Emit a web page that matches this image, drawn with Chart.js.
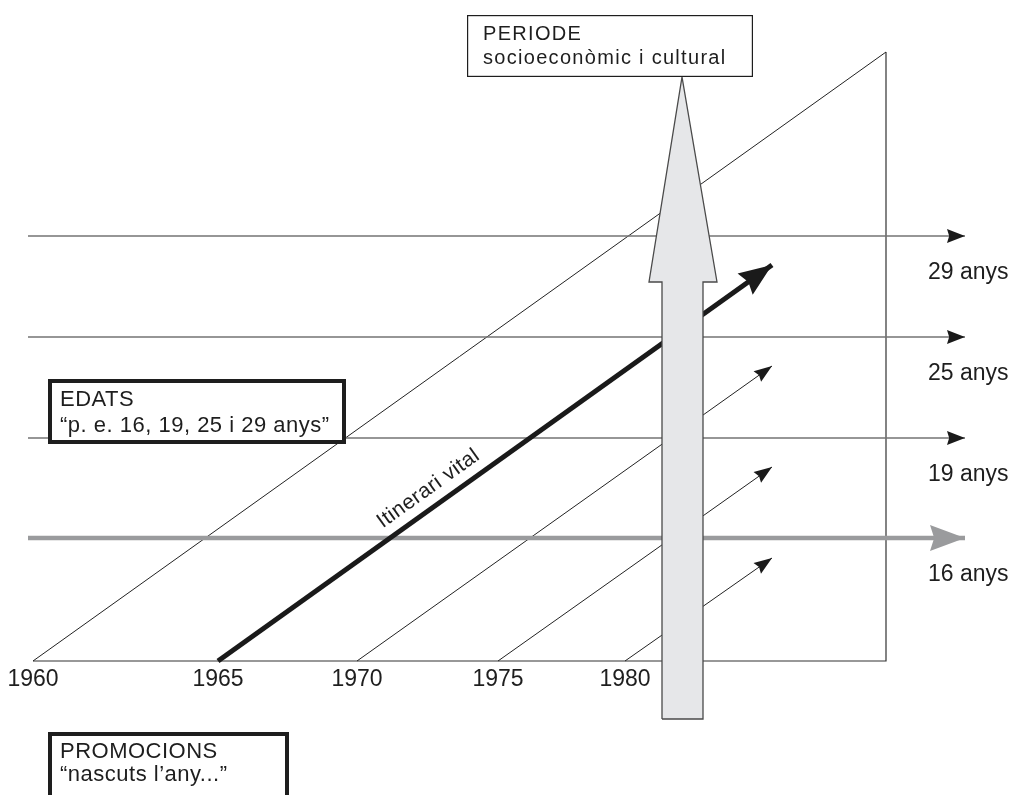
<!DOCTYPE html>
<html>
<head>
<meta charset="utf-8">
<title>Promocions, edats i període</title>
<script src="https://cdn.jsdelivr.net/npm/chart.js"></script>
<style>
  html, body { margin: 0; padding: 0; background: #fff; }
  #wrap { width: 1010px; height: 795px; }
</style>
</head>
<body>
<div id="wrap"><canvas id="lexis" width="1010" height="795"></canvas></div>
<script>
// The scheme is not drawn to scale, so the units follow the drawing itself
const cohortYears = ['1960', '1965', '1970', '1975', '1980'];
const cohortStartX = [33, 218, 357, 498, 625];
const cohortEndX = [886, 772, 772, 772, 772];
const cohortEndY = [52, 265, 366, 467, 558];
const baselineY = 661;

const ageLabels = ['29 anys', '25 anys', '19 anys', '16 anys'];
const ageY = [236, 337, 438, 538];
const ageFromX = 28;
const ageToX = 965;

const frameRight = 886;
const frameTop = 52;

// big "period" arrow outline
const periodArrowX = [662, 662, 649, 682, 717, 703, 703, 662];
const periodArrowY = [719, 282, 282, 77, 282, 282, 719, 719];

const FONT = '"Liberation Sans", Arial, Helvetica, sans-serif';

const datasets = [];

// period arrow on top of everything
datasets.push({
  data: periodArrowX.map((x, i) => ({ x: x, y: periodArrowY[i] })),
  borderColor: '#4a4a4a', borderWidth: 1.3, backgroundColor: '#e6e7e9',
  fill: 'shape', order: 0
});

// frame: base line and right edge
datasets.push({
  data: [{ x: cohortStartX[0], y: baselineY }, { x: frameRight, y: baselineY }, { x: frameRight, y: frameTop }],
  borderColor: '#333', borderWidth: 1.2, order: 5
});

// cohorts (diagonals)
cohortYears.forEach((yr, i) => {
  const main = i === 1;
  datasets.push({
    data: [{ x: cohortStartX[i], y: baselineY }, { x: cohortEndX[i], y: cohortEndY[i] }],
    borderColor: main ? '#1a1a1a' : '#222',
    borderWidth: main ? 5 : 1,
    order: main ? 1 : 4,
    head: i === 0 ? null : (main ? { len: 33, half: 13, color: '#1a1a1a' } : { len: 18, half: 6.5, color: '#1a1a1a' })
  });
});

// ages (horizontals)
ageLabels.forEach((lab, i) => {
  const sixteen = i === 3;
  datasets.push({
    data: [{ x: ageFromX, y: ageY[i] }, { x: ageToX, y: ageY[i] }],
    borderColor: sixteen ? '#9a9b9d' : '#737373',
    borderWidth: sixteen ? 4.5 : 1.5,
    order: sixteen ? 2 : 3,
    head: sixteen ? { len: 35, half: 13, color: '#9a9b9d' } : { len: 18, half: 7, color: '#1a1a1a' }
  });
});

function box(ctx, x, y, w, h, lw, lines, size, spacing, pad, baseline, gap) {
  ctx.save();
  ctx.fillStyle = '#fff';
  ctx.fillRect(x, y, w, h);
  ctx.strokeStyle = '#1e1e1e';
  ctx.lineWidth = lw;
  ctx.strokeRect(x + lw / 2, y + lw / 2, w - lw, h - lw);
  ctx.fillStyle = '#1e1e1e';
  ctx.font = size + 'px ' + FONT;
  ctx.letterSpacing = spacing + 'px';
  ctx.textAlign = 'left';
  ctx.textBaseline = 'alphabetic';
  lines.forEach((t, k) => ctx.fillText(t, x + pad, baseline + k * gap));
  ctx.restore();
}

const overlay = {
  id: 'overlay',
  afterDatasetsDraw(chart) {
    const ctx = chart.ctx;
    chart.data.datasets.forEach((ds, i) => {
      if (!ds.head) return;
      const pts = chart.getDatasetMeta(i).data;
      const a = pts[pts.length - 2], b = pts[pts.length - 1];
      const ang = Math.atan2(b.y - a.y, b.x - a.x);
      ctx.save();
      ctx.translate(b.x, b.y);
      ctx.rotate(ang);
      ctx.fillStyle = ds.head.color;
      ctx.beginPath();
      ctx.moveTo(0, 0);
      ctx.lineTo(-ds.head.len, -ds.head.half);
      ctx.lineTo(-ds.head.len * 0.88, 0);
      ctx.lineTo(-ds.head.len, ds.head.half);
      ctx.closePath();
      ctx.fill();
      ctx.restore();
    });
  },
  afterDraw(chart) {
    const ctx = chart.ctx;
    const xs = chart.scales.x, ys = chart.scales.y;

    // cohort year labels under the base line
    ctx.save();
    ctx.fillStyle = '#1e1e1e';
    ctx.font = '23px ' + FONT;
    ctx.textAlign = 'center';
    ctx.textBaseline = 'alphabetic';
    cohortYears.forEach((yr, i) => {
      ctx.fillText(yr, xs.getPixelForValue(cohortStartX[i]), ys.getPixelForValue(baselineY) + 25);
    });
    // age labels at the right
    ctx.textAlign = 'left';
    ageLabels.forEach((lab, i) => {
      ctx.fillText(lab, 928, ys.getPixelForValue(ageY[i]) + 43);
    });
    ctx.restore();

    // "Itinerari vital" along the 1965 cohort
    const pts = chart.getDatasetMeta(3).data;
    const a = pts[0], b = pts[1];
    const dx = b.x - a.x, dy = b.y - a.y, len = Math.hypot(dx, dy);
    const ux = dx / len, uy = dy / len;
    const t = 0.31, off = 12;
    const px = a.x + dx * t + uy * off, py = a.y + dy * t - ux * off;
    ctx.save();
    ctx.translate(px, py);
    ctx.rotate(Math.atan2(dy, dx));
    ctx.fillStyle = '#1e1e1e';
    ctx.font = '21px ' + FONT;
    ctx.letterSpacing = '0.5px';
    ctx.textAlign = 'left';
    ctx.fillText('Itinerari vital', 0, 0);
    ctx.restore();

    // label boxes
    box(ctx, 467, 15, 286, 62, 1.2, ['PERIODE', 'socioeconòmic i cultural'], 20, 1.3, 16, 40, 24);
    box(ctx, 48, 379, 298, 65, 4, ['EDATS', '“p. e. 16, 19, 25 i 29 anys”'], 22, 0.5, 12, 406, 26);
    box(ctx, 48, 732, 241, 80, 4, ['PROMOCIONS', '“nascuts l’any...”'], 22, 0.5, 12, 758, 23);
  }
};

new Chart(document.getElementById('lexis'), {
  type: 'scatter',
  data: { datasets: datasets },
  options: {
    responsive: false,
    animation: false,
    devicePixelRatio: 1,
    layout: { padding: 0 },
    showLine: true,
    elements: {
      point: { radius: 0, hoverRadius: 0 },
      line: { tension: 0, borderCapStyle: 'butt', borderJoinStyle: 'miter', fill: false }
    },
    plugins: { legend: { display: false }, tooltip: { enabled: false } },
    scales: {
      x: { type: 'linear', min: 0, max: 1010, display: false },
      y: { type: 'linear', min: 0, max: 795, reverse: true, display: false }
    }
  },
  plugins: [overlay]
});
</script>
</body>
</html>
